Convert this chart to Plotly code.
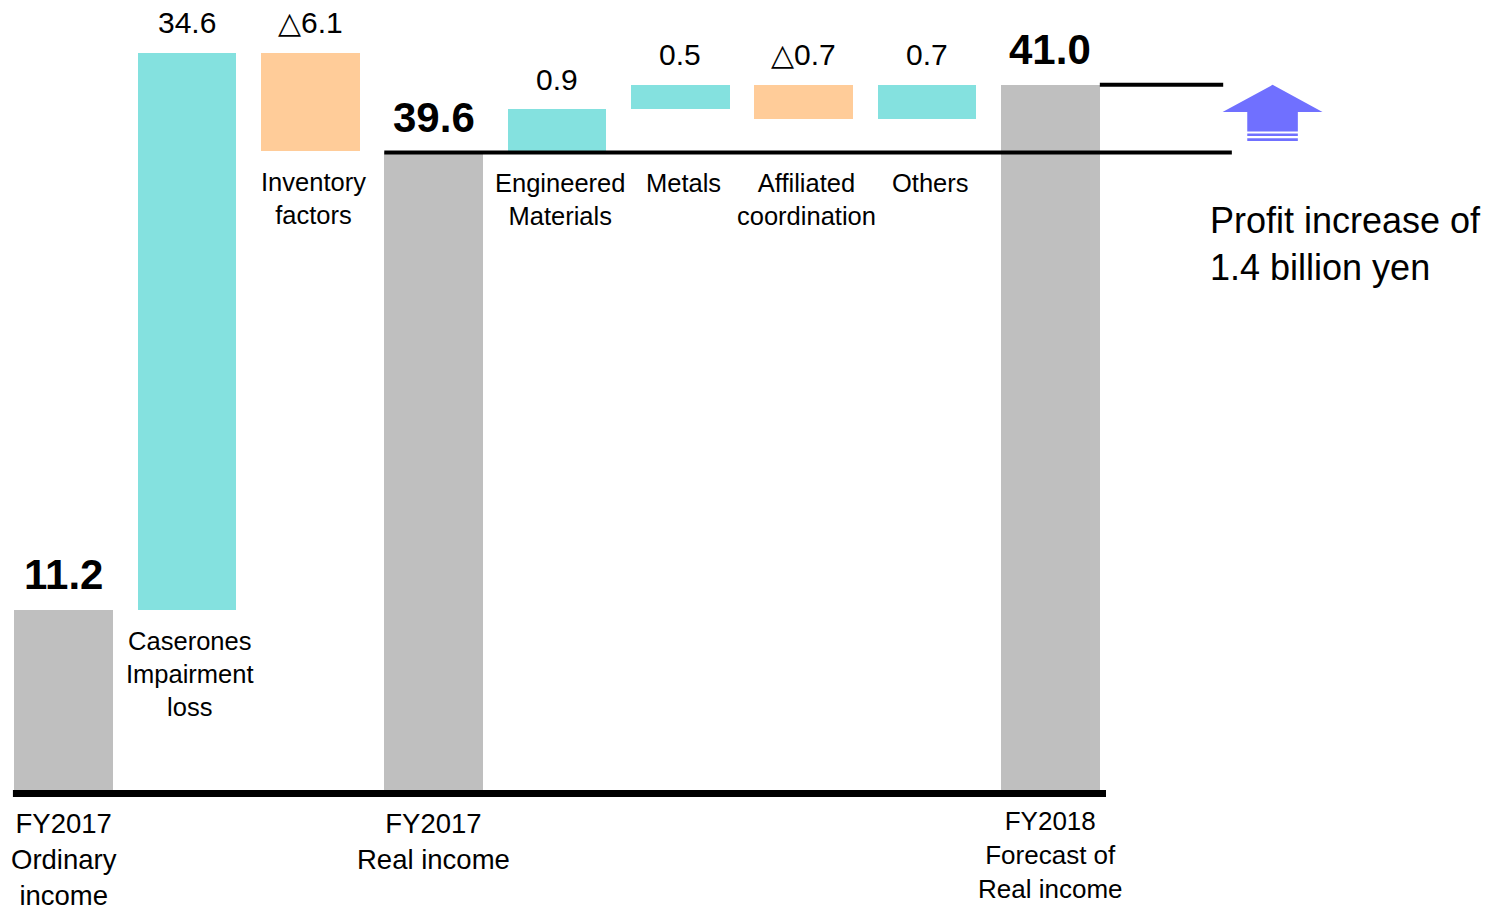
import plotly.graph_objects as go

# ---------------- data ----------------
categories = [
    "FY2017<br>Ordinary<br>income",
    "Caserones<br>Impairment<br>loss",
    "Inventory<br>factors",
    "FY2017<br>Real income",
    "Engineered<br>Materials",
    "Metals",
    "Affiliated<br>coordination",
    "Others",
    "FY2018<br>Forecast of<br>Real income",
]
measures = ["total", "relative", "relative", "total",
            "relative", "relative", "relative", "relative", "total"]
values = [11.2, 34.6, -6.1, 39.6, 0.9, 0.5, -0.7, 0.7, 41.0]
value_labels = ["11.2", "34.6", "△6.1", "39.6", "0.9", "0.5", "△0.7", "0.7", "41.0"]
note_text = "Profit increase of<br>1.4 billion yen"

# The original draws the FY2018 breakdown magnified (3x) above the FY2017 real-income level
detail_start = 4
detail_zoom = 3.0
pivot = values[detail_start - 1]

GRAY = "#BFBFBF"
CYAN = "#84E1DF"
ORANGE = "#FFCC99"
ARROW = "#7070FF"
FONT = "Arial, Liberation Sans, DejaVu Sans, sans-serif"


def disp(v, i):
    if i < detail_start:
        return v
    return pivot + (v - pivot) * detail_zoom


xs = list(range(len(categories)))
bases, heights, colors = [], [], []
running = 0.0
for i, (m, v) in enumerate(zip(measures, values)):
    if m == "total":
        running = v
        b, e = 0.0, disp(v, i)
        colors.append(GRAY)
    else:
        before = running
        running += v
        b, e = disp(before, i), disp(running, i)
        colors.append(CYAN if v >= 0 else ORANGE)
    bases.append(min(b, e))
    heights.append(abs(e - b))

fig = go.Figure()
fig.add_trace(go.Bar(
    x=xs, y=heights, base=bases, width=0.8,
    marker=dict(color=colors, line=dict(width=0)),
    hoverinfo="skip", showlegend=False,
))

annotations = []
for i, (m, lab, cat) in enumerate(zip(measures, value_labels, categories)):
    top = bases[i] + heights[i]
    bottom = bases[i]
    if m == "total":
        annotations.append(dict(
            x=xs[i], y=top, text=f"<b>{lab}</b>", showarrow=False,
            yanchor="middle", yshift=35,
            font=dict(size=42, color="black", family=FONT)))
        is_last = i == len(xs) - 1
        annotations.append(dict(
            x=xs[i], y=0, text=cat, showarrow=False,
            yanchor="top", yshift=-14 if is_last else -16,
            font=dict(size=26 if is_last else 27.5, color="black", family=FONT)))
    else:
        annotations.append(dict(
            x=xs[i], y=top, text=lab, showarrow=False,
            yanchor="middle", yshift=30,
            font=dict(size=30, color="black", family=FONT)))
        ly = pivot if i >= detail_start else bottom
        annotations.append(dict(
            x=xs[i], y=ly, text=cat, showarrow=False,
            yanchor="top", yshift=-15, xshift=3,
            font=dict(size=25.5, color="black", family=FONT)))

annotations.append(dict(
    x=0.803, y=0.732, xref="paper", yref="paper", text=note_text,
    showarrow=False, xanchor="left", yanchor="middle", align="left",
    font=dict(size=36, color="black", family=FONT)))

final_level = bases[-1] + heights[-1]
span = final_level - pivot
last = xs[-1]
shapes = [
    # baseline
    dict(type="rect", x0=-0.41, x1=last + 0.45, y0=0, y1=-0.43,
         fillcolor="black", line=dict(width=0)),
    # FY2017 real income level
    dict(type="line", x0=xs[3] - 0.4, x1=last + 1.47, y0=pivot, y1=pivot,
         line=dict(color="black", width=4)),
    # FY2018 forecast level
    dict(type="line", x0=last + 0.4, x1=last + 1.40, y0=final_level, y1=final_level,
         line=dict(color="black", width=4)),
]

# upward arrow (profit increase)
xc = last + 1.80
hw, sw = 0.405, 0.205
tip = final_level
head_base = pivot + 0.598 * span
shaft_bot = pivot + 0.31 * span
path = (f"M {xc-hw},{head_base} L {xc},{tip} L {xc+hw},{head_base} "
        f"L {xc+sw},{head_base} L {xc+sw},{shaft_bot} L {xc-sw},{shaft_bot} "
        f"L {xc-sw},{head_base} Z")
shapes.append(dict(type="path", path=path, fillcolor=ARROW, line=dict(width=0)))
for f0, f1 in [(0.281, 0.243), (0.21, 0.169)]:
    shapes.append(dict(type="rect", x0=xc - sw, x1=xc + sw,
                       y0=pivot + f1 * span, y1=pivot + f0 * span,
                       fillcolor=ARROW, line=dict(width=0)))

fig.update_layout(
    width=1504, height=909,
    margin=dict(l=0, r=0, t=0, b=0),
    paper_bgcolor="white", plot_bgcolor="white",
    xaxis=dict(range=[-0.5147, 11.676], visible=False, fixedrange=True),
    yaxis=dict(range=[-7.39, 49.07], visible=False, fixedrange=True),
    annotations=annotations,
    shapes=shapes,
    bargap=0,
)

fig.write_html("out.html")
